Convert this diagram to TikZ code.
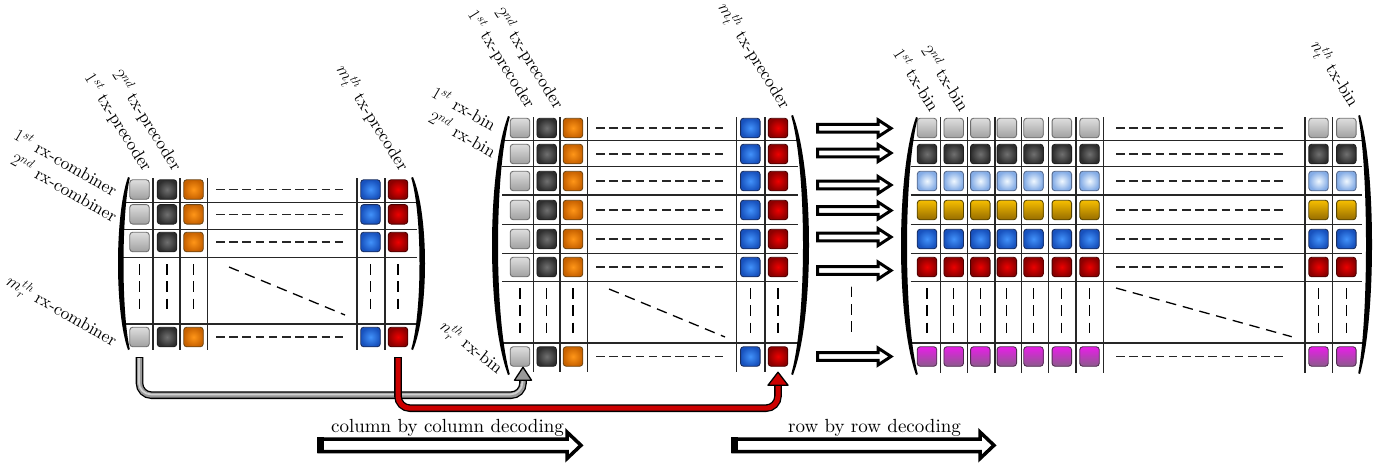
\RequirePackage{fix-cm}
\documentclass[tikz,border=0pt]{standalone}
\usepackage{fontspec}
\setmainfont{lmroman10-regular}[Extension=.otf]
\usetikzlibrary{calc}

% cell colours
\definecolor{lgT}{RGB}{222,222,222}\definecolor{lgB}{RGB}{160,160,160}\definecolor{lgD}{RGB}{110,110,110}
\definecolor{dgI}{RGB}{112,112,112}\definecolor{dgO}{RGB}{46,46,46}\definecolor{dgD}{RGB}{30,30,30}
\definecolor{orI}{RGB}{255,150,24}\definecolor{orO}{RGB}{200,98,0}\definecolor{orD}{RGB}{110,70,20}
\definecolor{blI}{RGB}{66,146,250}\definecolor{blO}{RGB}{24,82,190}\definecolor{blD}{RGB}{25,45,95}
\definecolor{rdI}{RGB}{236,0,0}\definecolor{rdO}{RGB}{140,0,0}\definecolor{rdD}{RGB}{75,0,0}
\definecolor{lbI}{RGB}{240,248,255}\definecolor{lbO}{RGB}{132,172,230}\definecolor{lbD}{RGB}{85,105,140}
\definecolor{goT}{RGB}{246,190,0}\definecolor{goB}{RGB}{150,108,0}\definecolor{goD}{RGB}{85,68,0}
\definecolor{mgT}{RGB}{232,30,232}\definecolor{mgB}{RGB}{140,90,140}\definecolor{mgD}{RGB}{80,45,80}
\definecolor{pipeRed}{RGB}{204,0,0}

% big parenthesis: x, y top, y bottom, depth, thickness, direction (-1 left, +1 right)
\newcommand\bigparen[6]{%
  \fill[black] (#1,#2)
    .. controls ({#1+#6*1.333*#4},{#2+0.22*(#3-#2)}) and ({#1+#6*1.333*#4},{#3-0.22*(#3-#2)}) .. (#1,#3)
    -- ({#1-#6*1.8},{#3-0.8})
    .. controls ({#1-#6*1.8+#6*1.333*(#4-#5+1.8)},{#3-0.22*(#3-#2)}) and ({#1-#6*1.8+#6*1.333*(#4-#5+1.8)},{#2+0.22*(#3-#2)}) .. ({#1-#6*1.8},{#2+0.8})
    -- cycle;}

% hollow block arrow: x start, x tip, y, shaft half, head half, head length, line width
\newcommand\blockarrow[7]{%
  \draw[line width=#7, fill=white, line join=miter]
    (#1,{#3-#4}) -- ({#2-#6},{#3-#4}) -- ({#2-#6},{#3-#5}) -- (#2,#3)
    -- ({#2-#6},{#3+#5}) -- ({#2-#6},{#3+#4}) -- (#1,{#3+#4}) -- cycle;}

\begin{document}
\begin{tikzpicture}[x=1pt,y=-1pt,
  cell/.style={rectangle, rounded corners=3pt, minimum size=19.5pt, inner sep=0pt, line width=0.9pt},
  c-lgray/.style={cell, top color=lgT, bottom color=lgB, draw=lgD},
  c-dgray/.style={cell, inner color=dgI, outer color=dgO, draw=dgD},
  c-orange/.style={cell, inner color=orI, outer color=orO, draw=orD},
  c-blue/.style={cell, inner color=blI, outer color=blO, draw=blD},
  c-red/.style={cell, inner color=rdI, outer color=rdO, draw=rdD},
  c-lblue/.style={cell, inner color=lbI, outer color=lbO, draw=lbD},
  c-gold/.style={cell, top color=goT, bottom color=goB, draw=goD},
  c-magenta/.style={cell, top color=mgT, bottom color=mgB, draw=mgD},
  grid/.style={line width=1.3pt, black!85},
  hdash/.style={line width=1.3pt, black!85, dash pattern=on 8.5pt off 4.7pt},
  vdash/.style={line width=1.3pt, black, dash pattern=on 10.5pt off 6.8pt},
  lbl/.style={font=\fontsize{17.5}{20}\selectfont, inner sep=0pt, anchor=base east},
  txl/.style={lbl, rotate=-58},
  rxl/.style={lbl, rotate=-30},
  caption/.style={font=\fontsize{19}{22}\selectfont, inner sep=0pt, anchor=base}
]
\useasboundingbox (0,0) rectangle (1391,466);

% ---------------- first matrix: precoders x combiners ----------------
\foreach \y in {202.7,229.3,257.3,324} \draw[grid] (122,\y) -- (417,\y);
\foreach \x in {153,180,207.3,357,385} \draw[grid] (\x,178) -- (\x,350);
\foreach \y [count=\r] in {189.5,214.3,242,337}{
  \foreach \x/\s [count=\c] in {139.5/c-lgray,167/c-dgray,193.5/c-orange,370.5/c-blue,398/c-red}
    \node[\s] (A-\r-\c) at (\x,\y) {};
  \draw[hdash] (216,\y) -- (347,\y);
}
\foreach \x in {139.5,167,193.5,370.5,398} \draw[vdash] (\x,264) -- (\x,311);
\draw[vdash] (229,267) -- (345,315);
\bigparen{128}{177}{350}{10}{5.5}{-1}
\bigparen{413}{177}{350}{12}{5.5}{1}

\node[txl] (A-t1) at (143.5,173) {$1^{st}$ tx-precoder};
\node[txl] (A-t2) at (173,172) {$2^{nd}$ tx-precoder};
\node[txl] (A-tm) at (400,172) {$m_t^{th}$ tx-precoder};
\node[rxl] (A-r1) at (113,197) {$1^{st}$ rx-combiner};
\node[rxl] (A-r2) at (113,223) {$2^{nd}$ rx-combiner};
\node[rxl] (A-rm) at (113,347) {$m_r^{th}$ rx-combiner};

% ---------------- second matrix: precoders x rx-bins ----------------
\foreach \y in {140.5,166.7,195,224.3,253.3,281.7,343} \draw[grid] (502,\y) -- (798,\y);
\foreach \x in {533.3,560,587.3,736.7,765} \draw[grid] (\x,117) -- (\x,372);
\foreach \y [count=\r] in {128,154,181,210,239,267,356.5}{
  \foreach \x/\s [count=\c] in {520/c-lgray,546.7/c-dgray,573/c-orange,750.3/c-blue,778/c-red}
    \node[\s] (B-\r-\c) at (\x,\y) {};
  \draw[hdash] (596,\y) -- (727,\y);
}
\foreach \x in {520,546.7,573,750.3,778} \draw[vdash] (\x,288) -- (\x,333);
\draw[vdash] (609,289) -- (725,337);
\bigparen{508}{116}{375}{16}{6}{-1}
\bigparen{793}{115}{375}{16}{6}{1}

\node[txl] (B-t1) at (526.7,110) {$1^{st}$ tx-precoder};
\node[txl] (B-t2) at (555,110) {$2^{nd}$ tx-precoder};
\node[txl] (B-tm) at (781.7,110) {$m_t^{th}$ tx-precoder};
\node[rxl] (B-r1) at (491.7,131.7) {$1^{st}$ rx-bin};
\node[rxl] (B-r2) at (491.7,158.3) {$2^{nd}$ rx-bin};
\node[rxl, rotate=-8] (B-rn) at (497.5,374.5) {$n_r^{th}$ rx-bin};

% ---------------- third matrix: tx-bins x rx-bins ----------------
\foreach \y in {140.5,166.7,195,224.3,253.3,281.7,343} \draw[grid] (910.7,\y) -- (1361.7,\y);
\foreach \x in {940.7,967.7,995,1021.7,1048.3,1076,1103.3,1305,1332.3} \draw[grid] (\x,117) -- (\x,373);
\foreach \y/\s [count=\r] in {128/c-lgray,154/c-dgray,181/c-lblue,210/c-gold,239/c-blue,267/c-red,356.5/c-magenta}{
  \foreach \x [count=\c] in {927,953.7,980.3,1006.8,1033.5,1061.8,1089.5,1318.5,1346.3}
    \node[\s] (C-\r-\c) at (\x,\y) {};
  \draw[hdash] (1116,\y) -- (1287,\y);
}
\foreach \x in {927,953.7,980.3,1006.8,1033.5,1061.8,1089.5,1318.5,1346.3} \draw[vdash] (\x,288) -- (\x,333);
\draw[vdash] (1116,288) -- (1291.7,336.7);
\bigparen{916}{117}{375}{15}{6}{-1}
\bigparen{1360}{115}{374}{12}{6}{1}

\node[txl] (C-t1) at (930,113.3) {$1^{st}$ tx-bin};
\node[txl] (C-t2) at (960,113.3) {$2^{nd}$ tx-bin};
\node[txl] (C-tn) at (1350,108.3) {$n_t^{th}$ tx-bin};

% ---------------- row arrows between second and third matrix ----------------
\foreach \y in {128.3,153,185,210.5,237,270.5,356.5}
  \blockarrow{817.5}{891}{\y}{3.85}{8.5}{13}{3pt}
\draw[vdash] (851.7,286.7) -- (851.7,333);

% ---------------- column transfer pipes ----------------
\coordinate (gS) at ([yshift=-11pt]A-4-1.south);
\coordinate (gTip) at ([xshift=3pt,yshift=-0.5pt]B-7-1.south);
\coordinate (gBase) at ([yshift=-13pt]gTip);
\coordinate (rS) at ([yshift=-11pt]A-4-5.south);
\coordinate (rTip) at ([yshift=-5.5pt]B-7-5.south);
\coordinate (rBase) at ([yshift=-13pt]rTip);

\draw[line width=7.6pt, black, rounded corners=12pt] ([yshift=1.2pt]gS) |- ($(gBase)+(0,15)$) -- (gBase);
\draw[line width=5pt, black!40, rounded corners=12pt] (gS) |- ($(gBase)+(0,15)$) -- (gBase);
\draw[line width=1.8pt, black!18, rounded corners=12pt] ([xshift=-0.6pt]gS) |- ($(gBase)+(-0.6,14.2)$) -- ([xshift=-0.6pt]gBase);
\fill[black!40, draw=black, line width=1.3pt, line join=round] (gTip) -- ($(gBase)+(-8.5,0)$) -- ($(gBase)+(8.5,0)$) -- cycle;

\draw[line width=7.6pt, black, rounded corners=12pt] ([yshift=1.2pt]rS) |- ($(rBase)+(0,23)$) -- (rBase);
\draw[line width=5pt, pipeRed, rounded corners=12pt] (rS) |- ($(rBase)+(0,23)$) -- (rBase);
\fill[pipeRed, draw=black, line width=1.3pt, line join=round] (rTip) -- ($(rBase)+(-10,0)$) -- ($(rBase)+(10,0)$) -- cycle;

% ---------------- decoding order arrows ----------------
\blockarrow{319}{581}{445.3}{6.25}{13.25}{14}{3.5pt}
\fill[black] (317,437.3) rectangle (324,453.3);
\node[caption] (colcap) at (447.5,432.3) {column by column decoding};

\blockarrow{733}{994}{445.3}{6.25}{13.25}{14}{3.5pt}
\fill[black] (731,437.3) rectangle (738,453.3);
\node[caption] (rowcap) at (874.5,432.3) {row by row decoding};
\end{tikzpicture}
\end{document}
